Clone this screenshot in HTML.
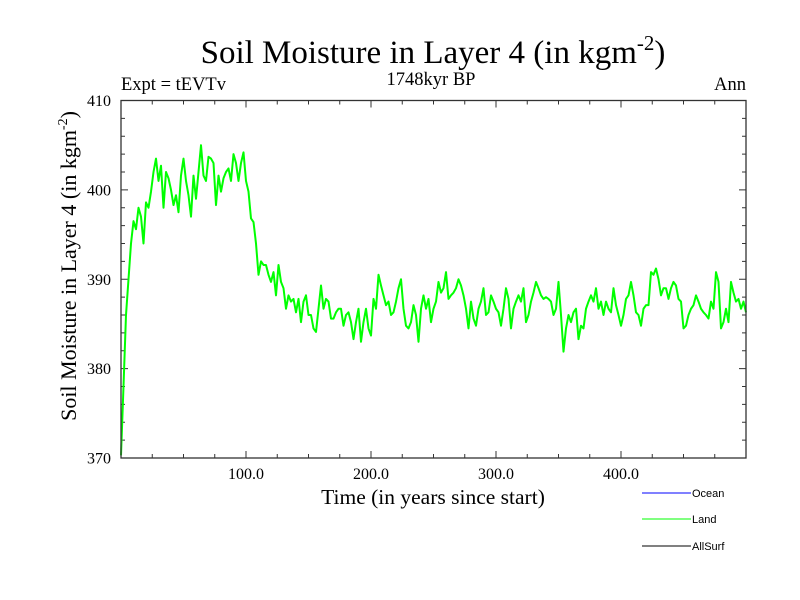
<!DOCTYPE html>
<html>
<head>
<meta charset="utf-8">
<style>
  html,body{margin:0;padding:0;background:#fff;}
  svg{display:block;}
  text{font-family:"Liberation Serif",serif;fill:#000;}
  .leg{font-family:"Liberation Sans",sans-serif;font-size:11px;}
</style>
</head>
<body>
<svg id="chart" width="800" height="600" viewBox="0 0 800 600" xmlns="http://www.w3.org/2000/svg">
  <rect width="800" height="600" fill="#fff"/>
  <text x="433" y="63" font-size="33" text-anchor="middle">Soil Moisture in Layer 4 (in kgm<tspan dy="-13" font-size="21">-2</tspan><tspan dy="13">)</tspan></text>
  <text x="121" y="90" font-size="18.5">Expt = tEVTv</text>
  <text x="431" y="85" font-size="18.5" text-anchor="middle">1748kyr BP</text>
  <text x="746" y="90" font-size="18.5" text-anchor="end">Ann</text>
  <text x="433" y="504" font-size="21.5" text-anchor="middle">Time (in years since start)</text>
  <text transform="translate(76,266) rotate(-90)" font-size="22" text-anchor="middle">Soil Moisture in Layer 4 (in kgm<tspan dy="-9" font-size="14">-2</tspan><tspan dy="9">)</tspan></text>
  <g id="ticks"></g>
  <g id="series"></g>
  <rect x="121" y="100.5" width="625" height="357.5" fill="none" stroke="#333" stroke-width="1.3"/>
  <g shape-rendering="crispEdges">
    <line x1="642" y1="493" x2="691" y2="493" stroke="#0000ff" stroke-width="1.3"/>
    <text class="leg" x="692" y="497">Ocean</text>
    <line x1="642" y1="519" x2="691" y2="519" stroke="#00ff00" stroke-width="1.3"/>
    <text class="leg" x="692" y="523">Land</text>
    <line x1="642" y1="546" x2="691" y2="546" stroke="#000" stroke-width="1.3"/>
    <text class="leg" x="692" y="550">AllSurf</text>
  </g>
</svg>
<script>
const yearStep = 2;
const landValues = [
370.3,378,386,390,394,396.5,395.6,398,397,394,398.6,398,399.8,402,403.5,401,402.7,398,402,401.3,
400,398.3,399.4,397.5,401.6,403.5,401,399.4,397,401.6,399,402,405,401.6,401,403.7,403.5,403,398.3,401.6,
399.8,401.3,402,402.4,401,404,403,401,403,404.2,401,399.8,396.8,396.4,394,390.5,392,391.6,391.6,390.5,
389.7,390.8,388.2,391.6,389.7,389,386.7,388.2,387.5,387.8,386.3,387.8,385.2,387.5,388.2,386,386,384.5,384.1,386.7,
389.3,386.7,387.8,387.5,385.6,385.6,386.3,386.7,386.7,384.8,386,386.3,385.2,383.3,385.2,386.7,383,385.2,386.7,384.5,
383.7,387.8,386.7,390.5,389.3,388.2,387.1,387.5,386,386.3,387.5,389,390,386.7,384.8,384.5,385.2,387.1,386,383,
386.7,388.2,386.7,387.8,385.2,386.7,387.5,389.7,388.5,389,390.8,387.8,388.2,388.5,389,390,389.3,388.2,386.7,384.5,
387.5,385.6,384.8,386.7,387.5,389,386,386.3,388.2,387.5,386.7,386.3,384.8,386.7,389,387.8,384.5,386.7,387.5,388.2,
387.5,389,385.2,386,387.5,388.5,389.7,389,388.2,387.8,388,387.8,387.5,386,386.7,389.7,386,381.9,384.5,386,
385.2,386.3,386.7,383.3,384.8,384.5,386.7,387.5,388.2,387.5,389,386.7,387.5,386,387.5,386.7,386.3,389,387.1,386,
384.8,386,387.8,388.2,389.7,388.2,386.3,386,384.8,386.7,387.1,387.1,390.8,390.5,391.2,390,388.2,389,389,387.8,
389,389.7,389.3,387.8,387.5,384.5,384.8,386,386.7,387.1,388.2,387.5,386.7,386.3,386,385.6,387.5,386.7,390.8,389.7,
384.5,385.2,386.7,385.2,389.7,388.5,387.5,387.8,386.7,387.5,386.3
];
const xTickValues = [100, 200, 300, 400];
const xTickLabels = ["100.0", "200.0", "300.0", "400.0"];
const yTickValues = [370, 380, 390, 400, 410];
const yTickLabels = ["370", "380", "390", "400", "410"];

const X0 = 121, X1 = 746, Y0 = 458, Y1 = 100.5;
const xMin = 0, xMax = 500, yMin = 370, yMax = 410;
function xs(v){ return X0 + (v - xMin) / (xMax - xMin) * (X1 - X0); }
function ys(v){ return Y0 - (v - yMin) / (yMax - yMin) * (Y0 - Y1); }
const NS = "http://www.w3.org/2000/svg";
const tg = document.getElementById('ticks');
function ln(x1,y1,x2,y2,name){
  const l = document.createElementNS(NS,'line');
  l.setAttribute('x1',x1); l.setAttribute('y1',y1); l.setAttribute('x2',x2); l.setAttribute('y2',y2);
  l.setAttribute('stroke','#333'); l.setAttribute('stroke-width','1');
  
  
  tg.appendChild(l);
}
for (let v = 25; v < xMax; v += 25) {
  const x = xs(v); const major = v % 100 === 0; const len = major ? 7 : 4;
  ln(x, Y0, x, Y0 - len, 'x-tick');
  ln(x, Y1, x, Y1 + len, 'x-tick-top');
}
for (let v = yMin + 2; v < yMax; v += 2) {
  const y = ys(v); const major = v % 10 === 0; const len = major ? 7 : 4;
  ln(X0, y, X0 + len, y, 'y-tick');
  ln(X1, y, X1 - len, y, 'y-tick-right');
}
xTickValues.forEach((v,i) => {
  const t = document.createElementNS(NS,'text');
  t.setAttribute('x', xs(v)); t.setAttribute('y', 479);
  t.setAttribute('font-size','16'); t.setAttribute('text-anchor','middle');
  t.textContent = xTickLabels[i];
  
  
  tg.appendChild(t);
});
yTickValues.forEach((v,i) => {
  const t = document.createElementNS(NS,'text');
  t.setAttribute('x', 111); t.setAttribute('y', ys(v) + 5.5);
  t.setAttribute('font-size','16'); t.setAttribute('text-anchor','end');
  t.textContent = yTickLabels[i];
  
  
  tg.appendChild(t);
});
const pts = landValues.map((v,i) => xs(i * yearStep).toFixed(2) + ',' + ys(v).toFixed(2)).join(' ');
const pl = document.createElementNS(NS,'polyline');
pl.setAttribute('points', pts);
pl.setAttribute('fill','none'); pl.setAttribute('stroke','#00ff00'); pl.setAttribute('stroke-width','2');
pl.setAttribute('stroke-linejoin','round');


document.getElementById('series').appendChild(pl);
</script>
</body>
</html>
